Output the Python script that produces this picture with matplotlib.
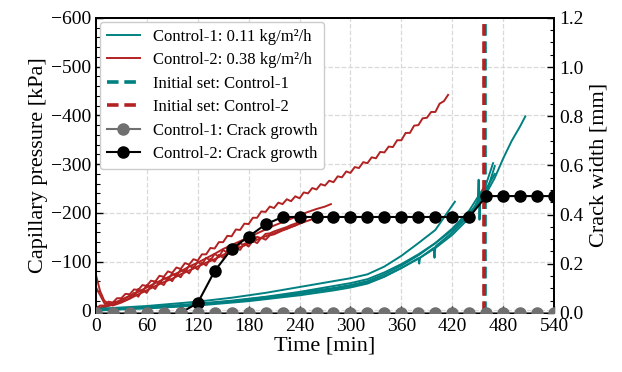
import numpy as np
import matplotlib
matplotlib.use("Agg")
from matplotlib import pyplot as plt

plt.rcParams["font.family"] = ["Liberation Serif", "DejaVu Serif"]
plt.rcParams["mathtext.fontset"] = "stix"

teal = "#008080"
red = "#b22222"

# Control-2 pressure curves [kPa], long one sampled every 5 min
red1_p = [-3, -10, -10, -18, -16, -25, -25, -34, -33, -43,
          -42, -52, -50, -61, -59, -71, -69, -80, -77, -88,
          -85, -97, -94, -105, -102, -115, -115, -128, -127, -140,
          -140, -153, -152, -166, -165, -178, -177, -190, -190, -203,
          -202, -213, -210, -221, -218, -228, -224, -234, -230, -242,
          -240, -251, -248, -259, -256, -266, -263, -275, -273, -285,
          -282, -294, -292, -304, -302, -314, -312, -325, -324, -336,
          -335, -349, -349, -364, -364, -379, -380, -394, -395, -407,
          -407, -424, -429, -442]
red2_p = [-8, -6, -8, -10, -13, -15, -18, -21, -25,
          -36, -28, -42, -36, -50, -44, -58, -52, -66, -60,
          -74, -68, -82, -76, -90, -84, -98, -92, -106, -100,
          -114, -108, -122, -116, -130, -124, -137, -131, -143, -138,
          -149, -145, -154, -156, -160, -164, -167, -171, -174, -178,
          -182]
red3_p = [-74, -40, -20, -14, -16, -18, -22, -26, -30,
          -30, -44, -38, -52, -46, -60, -54, -68, -62, -76,
          -70, -84, -78, -92, -86, -100, -94, -108, -102, -116,
          -110, -124, -118, -131, -125, -138, -133, -145, -140, -151,
          -148, -157, -158, -162, -165, -168, -171, -175, -178, -182]
red4_t = [0, 4, 10, 20, 30, 40, 50, 60, 70, 80, 90, 100, 110, 120, 130, 140,
          150, 160, 170, 180, 190, 200, 210, 220, 230, 240, 250, 260]
red4_p = [-48, -35, -15, -10, -16, -24, -33, -41, -50, -58, -65, -74, -82, -90,
          -98, -105, -114, -121, -130, -137, -145, -152, -158, -165, -171, -178,
          -184, -190]
red5_t = [0, 10, 20, 30, 40, 50, 60, 70, 80, 90, 100, 110, 120, 130, 140, 150,
          160, 170, 180, 190, 200, 210, 220, 230, 240, 250, 260, 270, 277]
red5_p = [-3, -6, -12, -20, -30, -38, -47, -56, -64, -72, -80, -90, -98, -107,
          -116, -126, -134, -142, -150, -158, -166, -174, -181, -188, -195, -202,
          -208, -213, -218]

# Control-1 pressure curves [kPa]
grid20 = [0, 20, 40, 60, 80, 100, 120, 140, 160, 180, 200, 220, 240, 260, 280,
          300, 320, 340, 360, 380, 400, 420, 440]
teal1_t = grid20 + [460, 470, 480, 490, 500, 506]
teal1_p = [-2, -3, -5, -7, -9, -11, -14, -17, -20, -24, -28, -33, -38, -44, -50,
           -56, -64, -78, -95, -115, -138, -165, -200, -240, -272, -312, -348,
           -378, -398]
teal2_t = grid20 + [460, 468]
teal2_p = [-1, -2, -4, -6, -8, -10, -13, -16, -19, -23, -27, -31, -36, -41, -46,
           -52, -60, -74, -92, -113, -138, -168, -205, -260, -302]
teal3_t = [0, 20, 40, 60, 80, 100, 120, 140, 160, 180, 200, 220, 240, 260, 280,
           300, 320, 340, 360, 380, 381, 382, 398, 399, 400, 420, 440, 460, 470]
teal3_p = [0, -1, -3, -4, -6, -8, -10, -13, -16, -19, -23, -27, -31, -36, -41,
           -47, -55, -69, -87, -107, -96, -108, -128, -108, -131, -160, -196,
           -240, -296]
teal4_t = grid20[:-3] + [400, 423]
teal4_p = [-3, -5, -7, -9, -12, -15, -18, -22, -26, -31, -36, -42, -48, -54, -60,
           -66, -74, -90, -112, -138, -165, -223]
teal5_t = grid20 + [450, 451, 452, 453, 460, 470]
teal5_p = [-1, -2, -4, -5, -7, -9, -12, -15, -18, -21, -25, -29, -34, -39, -44,
           -50, -57, -70, -87, -106, -128, -155, -190, -226, -268, -186, -236,
           -250, -280]

initial_set_1 = 458
initial_set_2 = 457

# crack width [mm]
crack_t = [0, 20, 40, 60, 80, 100, 120, 140, 160, 180, 200, 220, 240, 260, 280,
           300, 320, 340, 360, 380, 400, 420, 440, 460, 480, 500, 520, 540]
crack1_w = [0.0] * len(crack_t)
crack2_t = crack_t[5:]
crack2_w = [0.0, 0.04, 0.17, 0.26, 0.31, 0.36, 0.39, 0.39, 0.39, 0.39, 0.39,
            0.39, 0.39, 0.39, 0.39, 0.39, 0.39, 0.39, 0.475, 0.475, 0.475,
            0.475, 0.475]

fig = plt.figure(figsize=(6.22, 3.72), dpi=100)
ax = fig.add_axes([0.154, 0.159, 0.737, 0.793])
ax2 = ax.twinx()

ax.grid(True, ls="--", color="#d9d9d9", lw=0.9)
ax.set_axisbelow(True)

lw = 1.4
h1, = ax.plot(np.arange(0, 5 * len(red1_p), 5), red1_p, color=red, lw=lw)
ax.plot(np.arange(0, 5 * len(red2_p), 5), red2_p, color=red, lw=lw)
ax.plot(np.arange(0, 5 * len(red3_p), 5), red3_p, color=red, lw=lw)
ax.plot(red4_t, red4_p, color=red, lw=lw)
ax.plot(red5_t, red5_p, color=red, lw=lw)
h_t, = ax.plot(teal1_t, teal1_p, color=teal, lw=lw)
ax.plot(teal2_t, teal2_p, color=teal, lw=lw)
ax.plot(teal3_t, teal3_p, color=teal, lw=lw)
ax.plot(teal4_t, teal4_p, color=teal, lw=lw)
ax.plot(teal5_t, teal5_p, color=teal, lw=lw)

hv1 = ax.axvline(initial_set_1, color=teal, ls=(0, (3.2, 1.6)), lw=2.6)
hv2 = ax.axvline(initial_set_2, color=red, ls=(0, (3.2, 1.6)), lw=2.6)

ax.set_xlim(0, 540)
ax.set_ylim(5, -600)
ax.set_xticks(np.arange(0, 541, 60))
ax.set_xticks(np.arange(0, 541, 20), minor=True)
ax.set_yticks(np.arange(-600, 1, 100))
ax.set_yticks(np.arange(-600, 1, 20), minor=True)
ax.set_xlabel("Time [min]", fontsize=16, labelpad=1)
ax.set_ylabel("Capillary pressure [kPa]", fontsize=16, labelpad=2)
ax.tick_params(which="both", direction="in", labelsize=14, top=False)
ax.tick_params(which="major", length=5, width=1)
ax.tick_params(which="minor", length=3, width=0.8)

hc1, = ax2.plot(crack_t, crack1_w, color="#707070", marker="o", ms=8, lw=1.5,
                zorder=3)
hc2, = ax2.plot(crack2_t, crack2_w, color="black", marker="o", ms=8, lw=1.5,
                zorder=2)
ax2.set_ylim(0, 1.2)
ax2.set_yticks(np.arange(0, 1.21, 0.2))
ax2.set_yticks(np.arange(0, 1.21, 0.05), minor=True)
ax2.set_ylabel("Crack width [mm]", fontsize=16, labelpad=4)
ax2.tick_params(which="both", direction="in", labelsize=14)
ax2.tick_params(which="major", length=5, width=1)
ax2.tick_params(which="minor", length=3, width=0.8)
ax2.yaxis.set_major_formatter(matplotlib.ticker.FormatStrFormatter("%.1f"))

for s in list(ax.spines.values()) + list(ax2.spines.values()):
    s.set_linewidth(1.3)

leg = ax2.legend([h_t, h1, hv1, hv2, hc1, hc2],
                 ["Control-1: 0.11 kg/m²/h", "Control-2: 0.38 kg/m²/h",
                  "Initial set: Control-1", "Initial set: Control-2",
                  "Control-1: Crack growth", "Control-2: Crack growth"],
                 loc="upper left", fontsize=12, handlelength=2.0,
                 borderaxespad=0.25, labelspacing=0.45, framealpha=1,
                 edgecolor="#cccccc")
leg.set_zorder(10)

fig.savefig("out.png", dpi=100)
